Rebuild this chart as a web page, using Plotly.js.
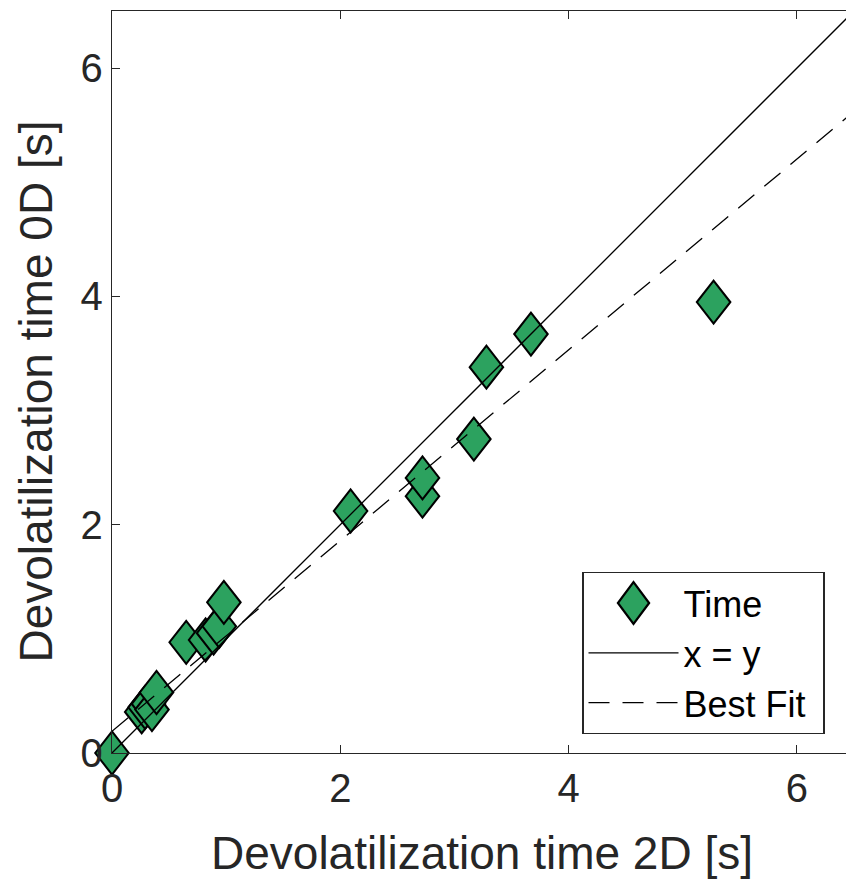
<!DOCTYPE html>
<html>
<head>
<meta charset="utf-8">
<script src="https://cdn.plot.ly/plotly-3.0.1.min.js"></script>
<style>html,body{margin:0;padding:0;background:#fff;overflow:hidden}#chart{width:846px;height:880px}</style>
</head>
<body>
<div id="chart"></div>
<script>
// Data
const time2D = [0.00, 0.26, 0.29, 0.32, 0.35, 0.39, 0.65, 0.82, 0.89, 0.94, 0.98, 2.09, 2.72, 2.72, 3.17, 3.28, 3.67, 5.27];
const time0D = [0.00, 0.36, 0.40, 0.43, 0.38, 0.53, 0.97, 0.99, 1.05, 1.11, 1.32, 2.12, 2.25, 2.41, 2.75, 3.38, 3.67, 3.95];
const identityX = [0, 6.5];
const identityY = [0, 6.5];
const fitX = [0, 6.5];
const fitY = [0.19, 5.62];
const tickVals = [0, 2, 4, 6];
const tickText = ['0', '2', '4', '6'];
const xTitle = 'Devolatilization time 2D [s]';
const yTitle = 'Devolatilization time 0D [s]';

const axisColor = '#262626';
const font = 'Liberation Sans, Arial, Helvetica, sans-serif';

const traces = [
  {
    x: time2D, y: time0D, type: 'scatter', mode: 'markers', name: 'Time', cliponaxis: false,
    marker: {symbol: 'diamond', size: 28, color: '#2ca25f', line: {color: '#000', width: 2}}
  },
  {
    x: identityX, y: identityY, type: 'scatter', mode: 'lines', name: 'x = y',
    line: {color: '#000', width: 1.3}
  },
  {
    x: fitX, y: fitY, type: 'scatter', mode: 'lines', name: 'Best Fit',
    line: {color: '#000', width: 1.3, dash: '21px,13px'}
  }
];

const layout = {
  width: 846, height: 880,
  margin: {l: 111.5, r: 0, t: 11, b: 126.7},
  paper_bgcolor: '#fff', plot_bgcolor: '#fff',
  font: {family: font, color: axisColor, size: 40},
  showlegend: true,
  xaxis: {
    range: [0, 6.43], tickvals: tickVals, ticktext: tickText,
    ticks: 'inside', ticklen: 8, tickwidth: 1, tickcolor: axisColor,
    showline: true, linecolor: axisColor, linewidth: 1.3, mirror: 'ticks',
    showgrid: false, zeroline: false,
    tickfont: {size: 40, color: axisColor, family: font}
  },
  yaxis: {
    range: [0, 6.5], tickvals: tickVals, ticktext: tickText,
    ticks: 'inside', ticklen: 8, tickwidth: 1, tickcolor: axisColor,
    showline: true, linecolor: axisColor, linewidth: 1.3, mirror: false,
    showgrid: false, zeroline: false,
    tickfont: {size: 40, color: axisColor, family: font}
  },
  annotations: [
    {text: xTitle, xref: 'paper', yref: 'paper', x: 0.504, y: -0.135,
     xanchor: 'center', yanchor: 'middle', showarrow: false,
     font: {size: 46, color: axisColor, family: font}},
    {text: yTitle, xref: 'paper', yref: 'paper', x: -0.104, y: 0.4867, textangle: -90,
     xanchor: 'center', yanchor: 'middle', showarrow: false,
     font: {size: 46, color: axisColor, family: font}}
  ],
  legend: {
    x: 0.6406, y: 0.2442, xanchor: 'left', yanchor: 'top',
    bgcolor: '#fff', bordercolor: axisColor, borderwidth: 1.3,
    font: {size: 36, color: '#000', family: font},
    itemwidth: 90, tracegroupgap: 0
  }
};

Plotly.newPlot('chart', traces, layout, {displayModeBar: false, staticPlot: true}).then(function () {
  document.querySelectorAll('.legend path.scatterpts').forEach(function (p) {
    const t = p.getAttribute('transform') || '';
    p.setAttribute('transform', t + ' scale(1.5,2.0)');
    p.style.strokeWidth = '1.3px';
  });
  document.querySelectorAll('.legend rect.bg').forEach(function (r) {
    const w = parseFloat(r.getAttribute('width')) || 0;
    if (w > 0 && w < 241) r.setAttribute('width', 241);
  });
  document.querySelectorAll('.scatterlayer .points path.point').forEach(function (p) {
    const t = p.getAttribute('transform') || '';
    p.setAttribute('transform', t + ' scale(0.92,1.18)');
  });
});
</script>
</body>
</html>
